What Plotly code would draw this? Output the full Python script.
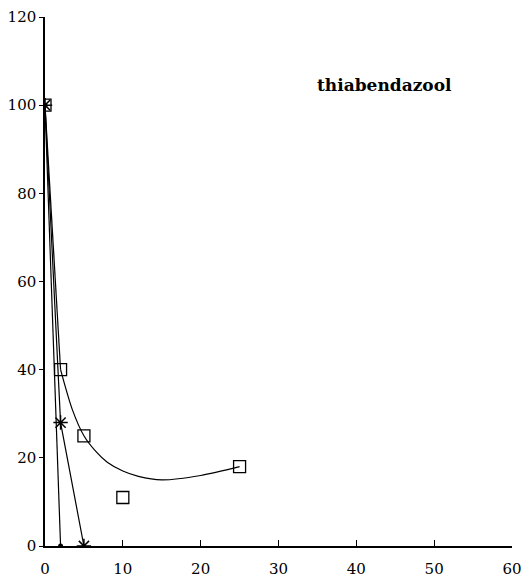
import plotly.graph_objects as go

# measured residue (%) versus time
sq_x = [0, 2, 5, 10, 25]
sq_y = [100, 40, 25, 11, 18]

# smoothed trend drawn through the square series
fit_head_x = [0, 2]
fit_head_y = [100, 40]
fit_x = [2, 3.5, 5, 6.5, 8, 10, 12, 15, 20, 25]
fit_y = [40, 31, 25, 21.5, 19, 17, 15.8, 15, 16, 18]

star_x = [0, 2, 5]
star_y = [100, 28, 0]

dot_x = [0, 2]
dot_y = [100, 0]

x_ticks = [0, 10, 20, 30, 40, 50, 60]
y_ticks = [0, 20, 40, 60, 80, 100, 120]

font = dict(family="DejaVu Serif, Liberation Serif, serif", size=15, color="black")

fig = go.Figure()
fig.add_trace(go.Scatter(x=fit_head_x, y=fit_head_y, mode="lines",
                         line=dict(color="black", width=1.2), hoverinfo="skip"))
fig.add_trace(go.Scatter(x=fit_x, y=fit_y, mode="lines",
                         line=dict(color="black", width=1.2, shape="spline", smoothing=0.8),
                         hoverinfo="skip"))
fig.add_trace(go.Scatter(x=sq_x, y=sq_y, mode="markers",
                         marker=dict(symbol="square-open", size=12, color="black",
                                     line=dict(width=1.3))))
fig.add_trace(go.Scatter(x=star_x, y=star_y, mode="lines+markers",
                         line=dict(color="black", width=1.2),
                         marker=dict(symbol="asterisk-open", size=12, color="black",
                                     line=dict(width=1.5, color="black"))))
fig.add_trace(go.Scatter(x=dot_x, y=dot_y, mode="lines+markers",
                         line=dict(color="black", width=1.2),
                         marker=dict(symbol="circle", size=5, color="black")))

fig.add_annotation(x=43.6, y=104.5, text="<b>thiabendazool</b>", showarrow=False,
                   font=dict(family="DejaVu Serif, Liberation Serif, serif", size=17, color="black"))

fig.update_layout(
    width=528, height=581,
    margin=dict(l=45, r=16, t=17, b=35),
    paper_bgcolor="white", plot_bgcolor="white",
    showlegend=False,
    font=font,
)
fig.update_xaxes(range=[0, 60], tickvals=x_ticks, showgrid=False, zeroline=False,
                 showline=True, linecolor="black", linewidth=1.5,
                 ticks="inside", ticklen=6, tickcolor="black", tickfont=font,
                 ticklabelstandoff=8, automargin=False)
fig.update_yaxes(range=[0, 120], tickvals=y_ticks, showgrid=False, zeroline=False,
                 showline=True, linecolor="black", linewidth=1.5,
                 ticks="outside", ticklen=4, tickcolor="black", tickfont=font,
                 automargin=False)

fig.write_html("out.html")
